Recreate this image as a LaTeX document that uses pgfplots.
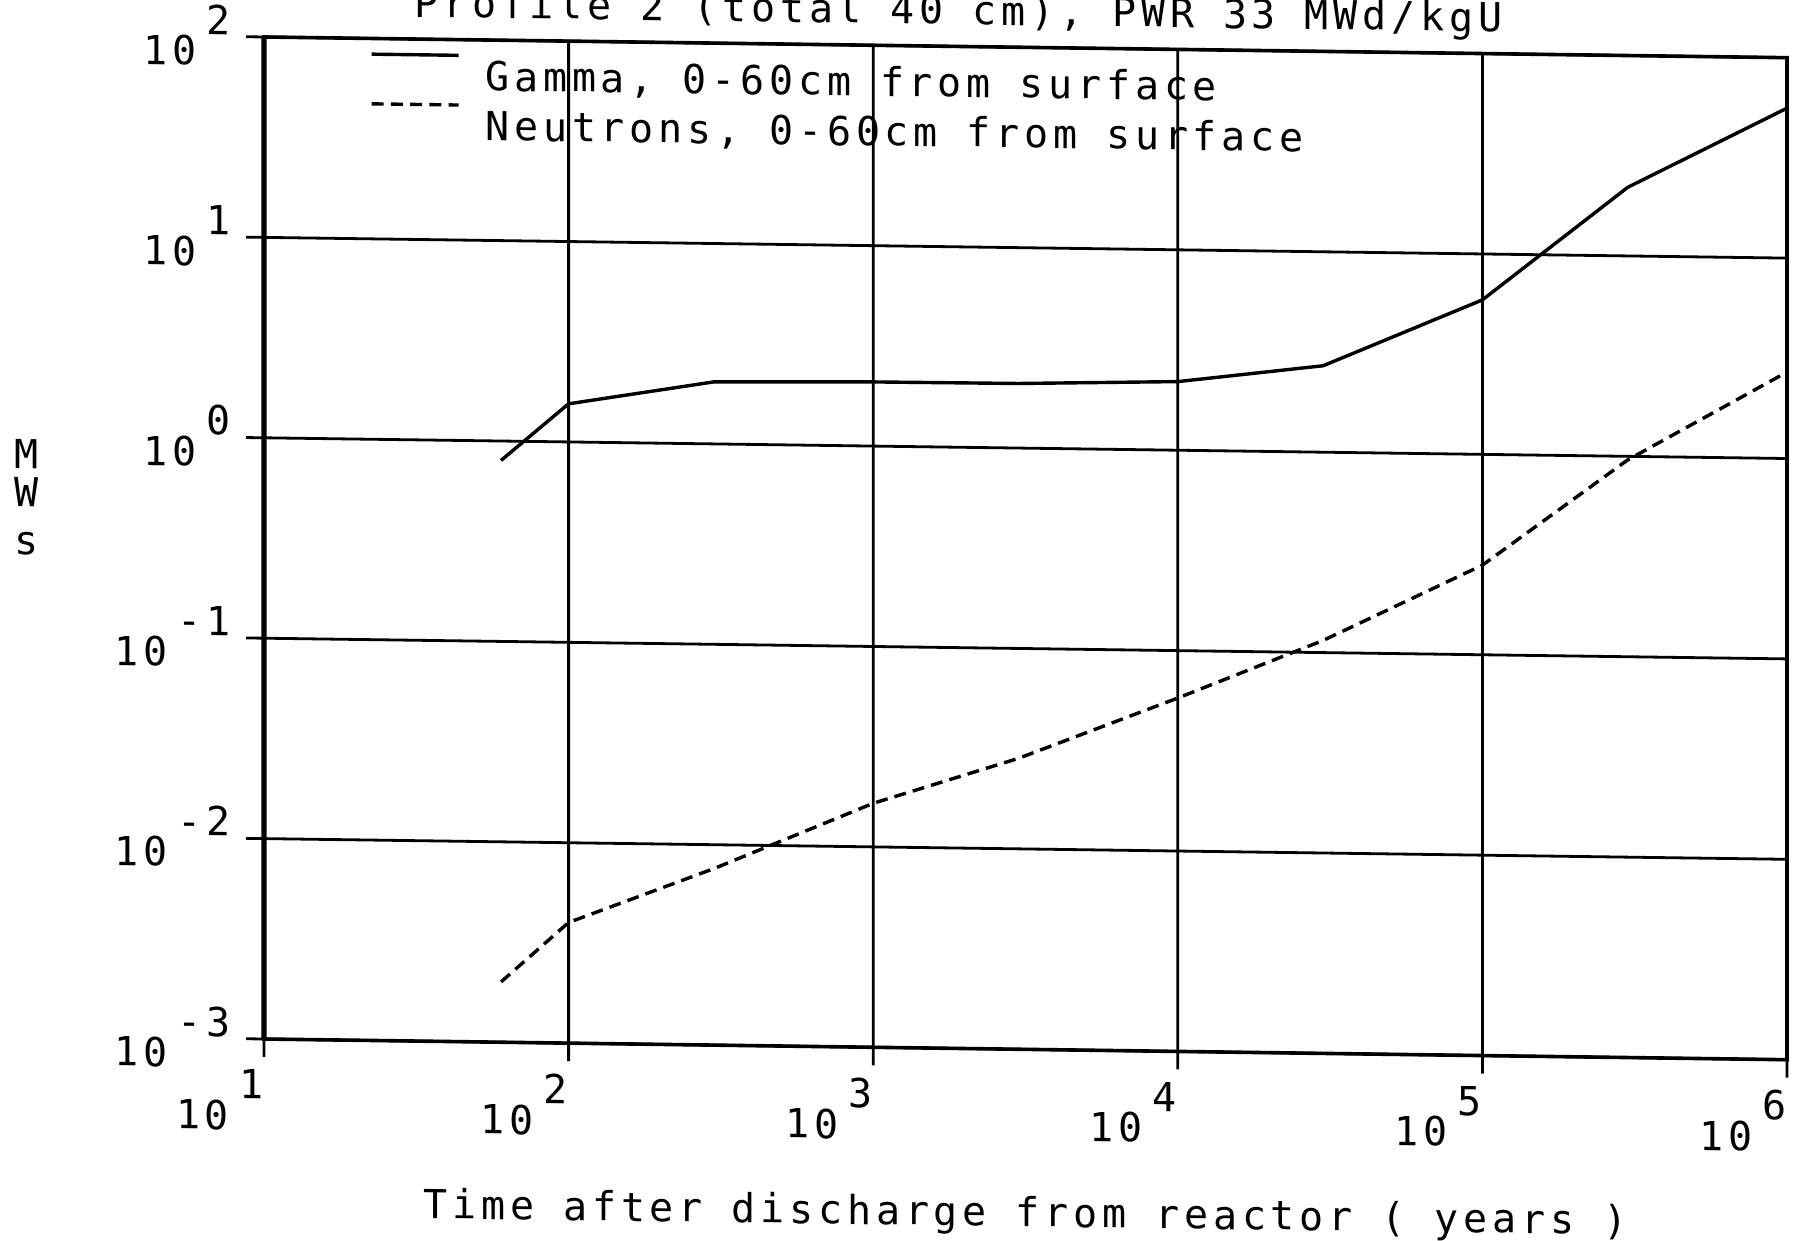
\documentclass[border=0pt]{standalone}
\usepackage{fontspec}
\usepackage{pgfplots}
\pgfplotsset{compat=1.18}
\newfontfamily\plotfont[LetterSpace=12]{DejaVu Sans Mono}
\newcommand{\ex}[1]{10\hspace{2.5pt}\raisebox{7.8pt}{#1}}

\pgfplotstableread{
x        g
60       0.80
100      1.55
300      2.04
1000     2.09
3000     2.10
10000    2.20
30000    2.70
100000   5.9
300000   22
1000000  56
}\gammadata

\pgfplotstableread{
x        n
60       0.0020
100      0.0040
300      0.0076
1000     0.0165
3000     0.0283
10000    0.058
30000    0.115
100000   0.28
300000   0.96
1000000  2.7
}\neutrondata

\begin{document}
\begin{tikzpicture}
\begin{scope}[transform canvas={yslant=-0.0136}]
\begin{axis}[
  name=ax,
  scale only axis, width=380.75pt, height=250.5pt,
  xmode=log, ymode=log,
  xmin=10, xmax=1e6, ymin=1e-3, ymax=1e2,
  xtick={1e1,1e2,1e3,1e4,1e5,1e6},
  ytick={1e-3,1e-2,1e-1,1e0,1e1,1e2},
  xticklabels={\ex{1},\ex{2},\ex{3},\ex{4},\ex{5},\ex{6}},
  yticklabels={\ex{-3},\ex{-2},\ex{-1},\ex{0},\ex{1},\ex{2}},
  xminorticks=false, yminorticks=false,
  grid=major,
  major grid style={black, line width=0.7pt},
  axis line style={black, line width=0.9pt},
  tick pos=left, tick align=outside, major tick length=4.5pt,
  tick style={black, line width=0.7pt},
  xticklabel style={anchor=north east, inner sep=0pt, yshift=-3pt, font=\plotfont},
  yticklabel style={anchor=base east, inner sep=0pt, xshift=-3.6pt, yshift=-7.25pt, font=\plotfont},
  xlabel={Time after discharge from reactor ( years )},
  xlabel style={at={(axis description cs:0.5,0)}, anchor=base, yshift=-44.3pt, inner sep=0pt, font=\plotfont},
  legend style={at={(axis description cs:0,1)}, anchor=north west, xshift=26.5pt, yshift=-3.5pt,
    draw=none, fill=none, inner sep=0pt, outer sep=0pt, row sep=0.75pt, column sep=6.25pt,
    font=\plotfont, nodes={inner sep=0pt, text height=8pt, text depth=2.5pt}},
  legend cell align=left,
  legend image code/.code={\draw[#1] (0pt,6pt) -- (21.75pt,6pt);},
]
\addplot[black, line width=0.85pt] table[x=x, y=g] {\gammadata};
\addlegendentry{Gamma, 0-60cm from surface}
\addplot[black, line width=0.85pt, dash pattern=on 3pt off 1.8pt] table[x=x, y=n] {\neutrondata};
\addlegendentry{Neutrons, 0-60cm from surface}
\end{axis}
\draw[black, line width=1.3pt] (ax.south west) -- (ax.north west);
\node[anchor=base, font=\plotfont] at ([xshift=-59.25pt, yshift=141.75pt]ax.south west) {M};
\node[anchor=base, font=\plotfont] at ([xshift=-59.25pt, yshift=132.25pt]ax.south west) {W};
\node[anchor=base, font=\plotfont] at ([xshift=-59.25pt, yshift=120.25pt]ax.south west) {s};
\node[overlay, anchor=base, font=\plotfont] at ([xshift=173.6pt, yshift=5.5pt]ax.north west) {Profile 2 (total 40 cm), PWR 33 MWd/kgU};
\end{scope}
\pgfresetboundingbox
\path[use as bounding box] ([shift={(-66pt,-50.5pt)}]ax.south west) rectangle ([shift={(3.25pt,9.25pt)}]ax.north east);
\end{tikzpicture}
\end{document}
